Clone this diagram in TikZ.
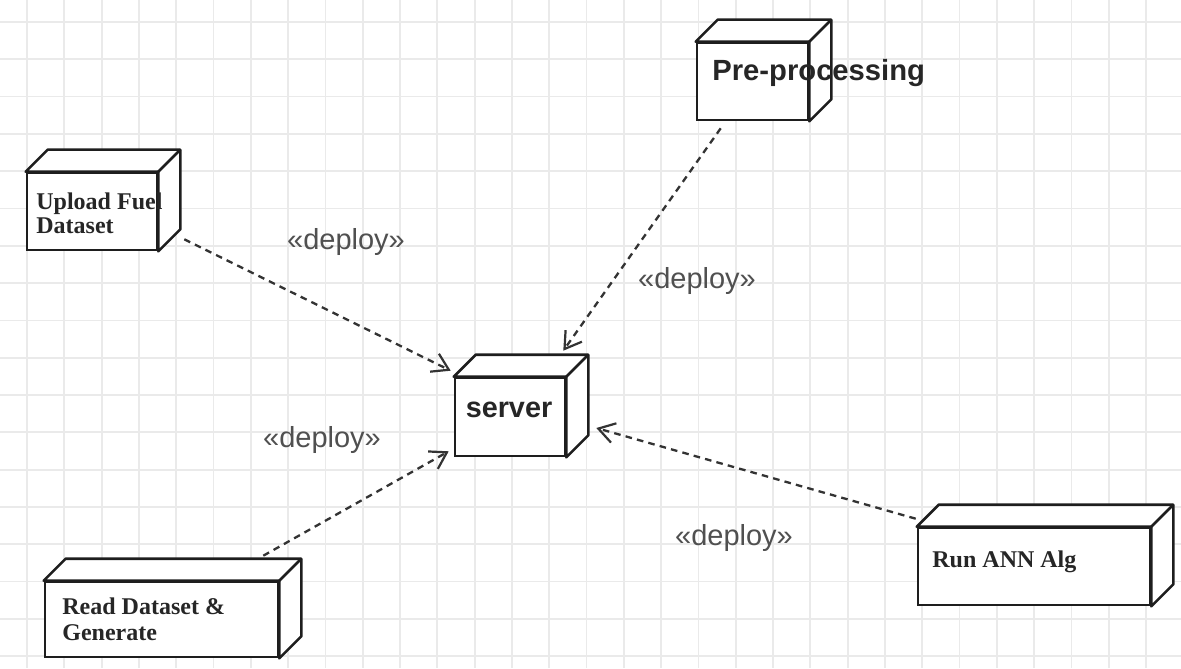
\documentclass[tikz,border=0pt]{standalone}
\usepackage{fontspec}
\setmainfont{Liberation Serif}
\newfontfamily\arialf{Liberation Sans}
\usetikzlibrary{arrows.meta,calc}
\definecolor{gridc}{HTML}{EAEAEA}
\definecolor{boxc}{HTML}{1E1E1E}
\definecolor{depc}{HTML}{505050}
\definecolor{arrc}{HTML}{333333}
\tikzset{
  frontbox/.style={draw=boxc, line width=1.3pt, fill=white, inner sep=0pt},
  boxline/.style={draw=boxc, line width=1.3pt, line join=round},
  serlabel/.style={font=\fontsize{12}{12}\selectfont\bfseries, align=left, anchor=west, inner sep=0pt, text=black!85},
  sanslabel/.style={font=\arialf\bfseries, inner sep=0pt, text=black!85},
  deplabel/.style={font=\arialf\fontsize{14.5}{15}\selectfont, text=depc, inner sep=0pt},
  deparrow/.style={draw=arrc, line width=1.15pt, dash pattern=on 3.3pt off 2.6pt, -{Straight Barb[length=8pt,width=10pt,line width=1.1pt]}},
}
\newcommand{\cubefaces}[1]{%
  \draw[boxline, fill=white] (#1.north west) -- ++(22,-22) -| ($(#1.south east)+(22,-22)$) -- (#1.south east) -- (#1.north east) -- cycle;
  \draw[boxline] (#1.north east) -- ++(22,-22);
}
\begin{document}
\begin{tikzpicture}[x=0.5pt,y=-0.5pt]
\useasboundingbox (0,0) rectangle (1181,668);
\fill[white] (0,0) rectangle (1181,668);
% grid
\foreach \i in {0,...,31} {\draw[gridc, line width=0.9pt] ({27+37.3*\i},0) -- ({27+37.3*\i},668);}
\foreach \j in {0,...,17} {\draw[gridc, line width=0.9pt] (0,{22+37.3*\j}) -- (1181,{22+37.3*\j});}

% boxes
\node[frontbox, minimum width=65pt, minimum height=38.5pt] (up) at (92,211.5) {};
\cubefaces{up}
\node[frontbox, minimum width=55.5pt, minimum height=38.5pt] (pre) at (752.5,81.5) {};
\cubefaces{pre}
\node[frontbox, minimum width=55pt, minimum height=39pt] (srv) at (510,417) {};
\cubefaces{srv}
\node[frontbox, minimum width=116.5pt, minimum height=37.5pt] (rd) at (161.5,619.5) {};
\cubefaces{rd}
\node[frontbox, minimum width=116pt, minimum height=38.5pt] (run) at (1034,566.5) {};
\cubefaces{run}

% box texts
\node[serlabel, font=\fontsize{12}{11.8}\selectfont\bfseries] (uptxt) at (36,213) {Upload Fuel\\Dataset};
\node[sanslabel, font=\arialf\bfseries\fontsize{14.6}{15}\selectfont, anchor=west] (pretxt) at (712,73) {Pre-processing};
\node[sanslabel, font=\arialf\bfseries\fontsize{14.4}{15}\selectfont] (srvtxt) at (509,410) {server};
\node[serlabel, font=\fontsize{12}{12.8}\selectfont\bfseries] (rdtxt) at (62,619) {Read Dataset \&\\Generate};
\node[serlabel] (runtxt) at (932,562) {Run ANN Alg};

% connectors
\draw[deparrow] ($(up.south east)+(26,-12)$) -- ($(srv.north west)+(-3,-6)$);
\draw[deparrow] ($(pre.south west)+(25,7)$) -- ($(srv.north east)+(-3,-26)$);
\draw[deparrow] ($(rd.north east)+(-16,-25)$) -- ($(srv.south west)+(-5,-6)$);
\draw[deparrow] ($(run.north west)+(-1,-8)$) -- ($(srv.east)+(30,11)$);

% labels
\node[deplabel] (d1) at (346,242) {«deploy»};
\node[deplabel] (d2) at (697,281) {«deploy»};
\node[deplabel] (d3) at (322,440) {«deploy»};
\node[deplabel] (d4) at (734,538) {«deploy»};
\end{tikzpicture}
\end{document}
